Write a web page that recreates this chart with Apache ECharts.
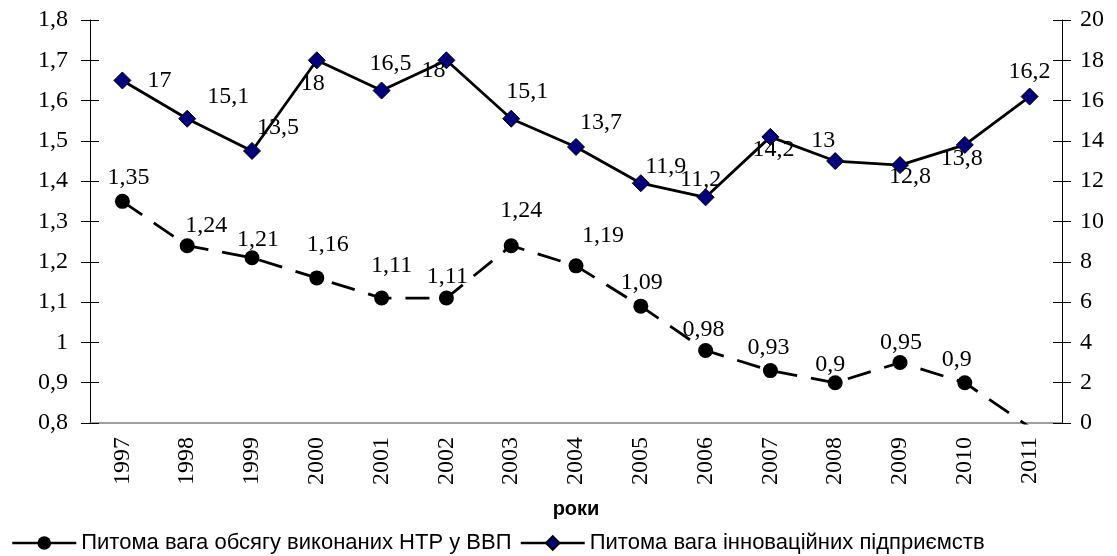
<!DOCTYPE html>
<html>
<head>
<meta charset="utf-8">
<script src="https://cdn.jsdelivr.net/npm/echarts@6/dist/echarts.min.js"></script>
<style>
  html, body { margin: 0; padding: 0; background: #fff; }
  #chart { width: 1117px; height: 556px; }
</style>
</head>
<body>
<div id="chart"></div>
<script>
const years = ['1997', '1998', '1999', '2000', '2001', '2002', '2003', '2004', '2005', '2006', '2007', '2008', '2009', '2010', '2011']
// Питома вага обсягу виконаних НТР у ВВП (ліва вісь)
const ntrShare = [1.35, 1.24, 1.21, 1.16, 1.11, 1.11, 1.24, 1.19, 1.09, 0.98, 0.93, 0.9, 0.95, 0.9, 0.79]
// Питома вага інноваційних підприємств (права вісь)
const innovShare = [17, 15.1, 13.5, 18, 16.5, 18, 15.1, 13.7, 11.9, 11.2, 14.2, 13, 12.8, 13.8, 16.2]
const leftAxisRange = [0.8, 1.8, 0.1]
const rightAxisRange = [0, 20, 2]

const seriesNames = ['Питома вага обсягу виконаних НТР у ВВП', 'Питома вага інноваційних підприємств']

// label shifts, like in the excel original
const ntrShift = [[6, -24], [19, -20], [6, -18], [11, -33], [10, -32], [1, -21], [10, -35], [27, -30], [1, -23], [-2, -21], [-2, -23], [-5, -18], [1, -20], [-8, -23], [0, -20]]
const innovShift = [[37, 0], [41, -22], [26, -23], [-4, 23], [9, -27], [-13, 10], [16, -27], [25, -24], [25, -17], [-5, -18], [3, 13], [-12, -20], [10, 12], [-3, 14], [0, -25]]

const serif = 'Liberation Serif, Times New Roman, serif'
const sans = 'Liberation Sans, Arial, sans-serif'
const comma = v => String(+(+v).toFixed(2)).replace('.', ',')

const chart = echarts.init(document.getElementById('chart'))

const yBase = (range, pos, tickInside) => ({
  type: 'value',
  position: pos,
  min: range[0],
  max: range[1],
  interval: range[2],
  splitLine: { show: false },
  axisLine: { show: !tickInside, lineStyle: { color: '#000', width: 1 } },
  axisTick: { show: true, inside: tickInside, length: 9, lineStyle: { color: '#000' } },
  axisLabel: {
    show: !tickInside,
    margin: pos === 'left' ? 22 : 18,
    color: '#000',
    fontFamily: serif,
    fontSize: 24,
    formatter: comma
  }
})

const pointLabel = {
  show: true,
  position: 'inside',
  color: '#000',
  fontFamily: serif,
  fontSize: 24,
  formatter: p => comma(p.value)
}

const option = {
  animation: false,
  grid: { left: 90, right: 55, top: 20, bottom: 133, containLabel: false },
  xAxis: {
    type: 'category',
    data: years,
    boundaryGap: true,
    name: 'роки',
    nameLocation: 'middle',
    nameGap: 76,
    nameTextStyle: { color: '#000', fontFamily: sans, fontWeight: 'bold', fontSize: 20 },
    axisLine: { lineStyle: { color: '#808080', width: 1.5 } },
    axisTick: { length: 8, lineStyle: { color: '#000' } },
    axisLabel: { rotate: 90, margin: 14, color: '#000', fontFamily: serif, fontSize: 24, interval: 0 }
  },
  yAxis: [
    yBase(leftAxisRange, 'left', false),
    yBase(leftAxisRange, 'left', true),
    yBase(rightAxisRange, 'right', false),
    yBase(rightAxisRange, 'right', true)
  ],
  legend: {
    left: 6,
    top: 527,
    itemWidth: 64,
    itemHeight: 17,
    itemGap: 8,
    textStyle: { color: '#000', fontFamily: sans, fontSize: 22 },
    data: [
      { name: seriesNames[0], lineStyle: { type: 'solid', width: 2.5 } },
      { name: seriesNames[1], lineStyle: { type: 'solid', width: 2.5 } }
    ]
  },
  series: [
    {
      name: seriesNames[0],
      type: 'line',
      yAxisIndex: 0,
      clip: true,
      data: ntrShare.map((v, i) => ({
        value: v,
        label: { offset: ntrShift[i], show: v >= leftAxisRange[0] }
      })),
      symbol: 'circle',
      symbolSize: 15,
      itemStyle: { color: '#000' },
      lineStyle: { color: '#000', width: 2.8, type: [24, 14] },
      label: pointLabel,
      z: 2
    },
    {
      name: seriesNames[1],
      type: 'line',
      yAxisIndex: 2,
      data: innovShare.map((v, i) => ({ value: v, label: { offset: innovShift[i] } })),
      symbol: 'diamond',
      symbolSize: 17,
      itemStyle: { color: '#000080', borderColor: '#000', borderWidth: 1 },
      lineStyle: { color: '#000', width: 2.8 },
      label: pointLabel,
      z: 3
    }
  ]
}

option && chart.setOption(option)
</script>
</body>
</html>
